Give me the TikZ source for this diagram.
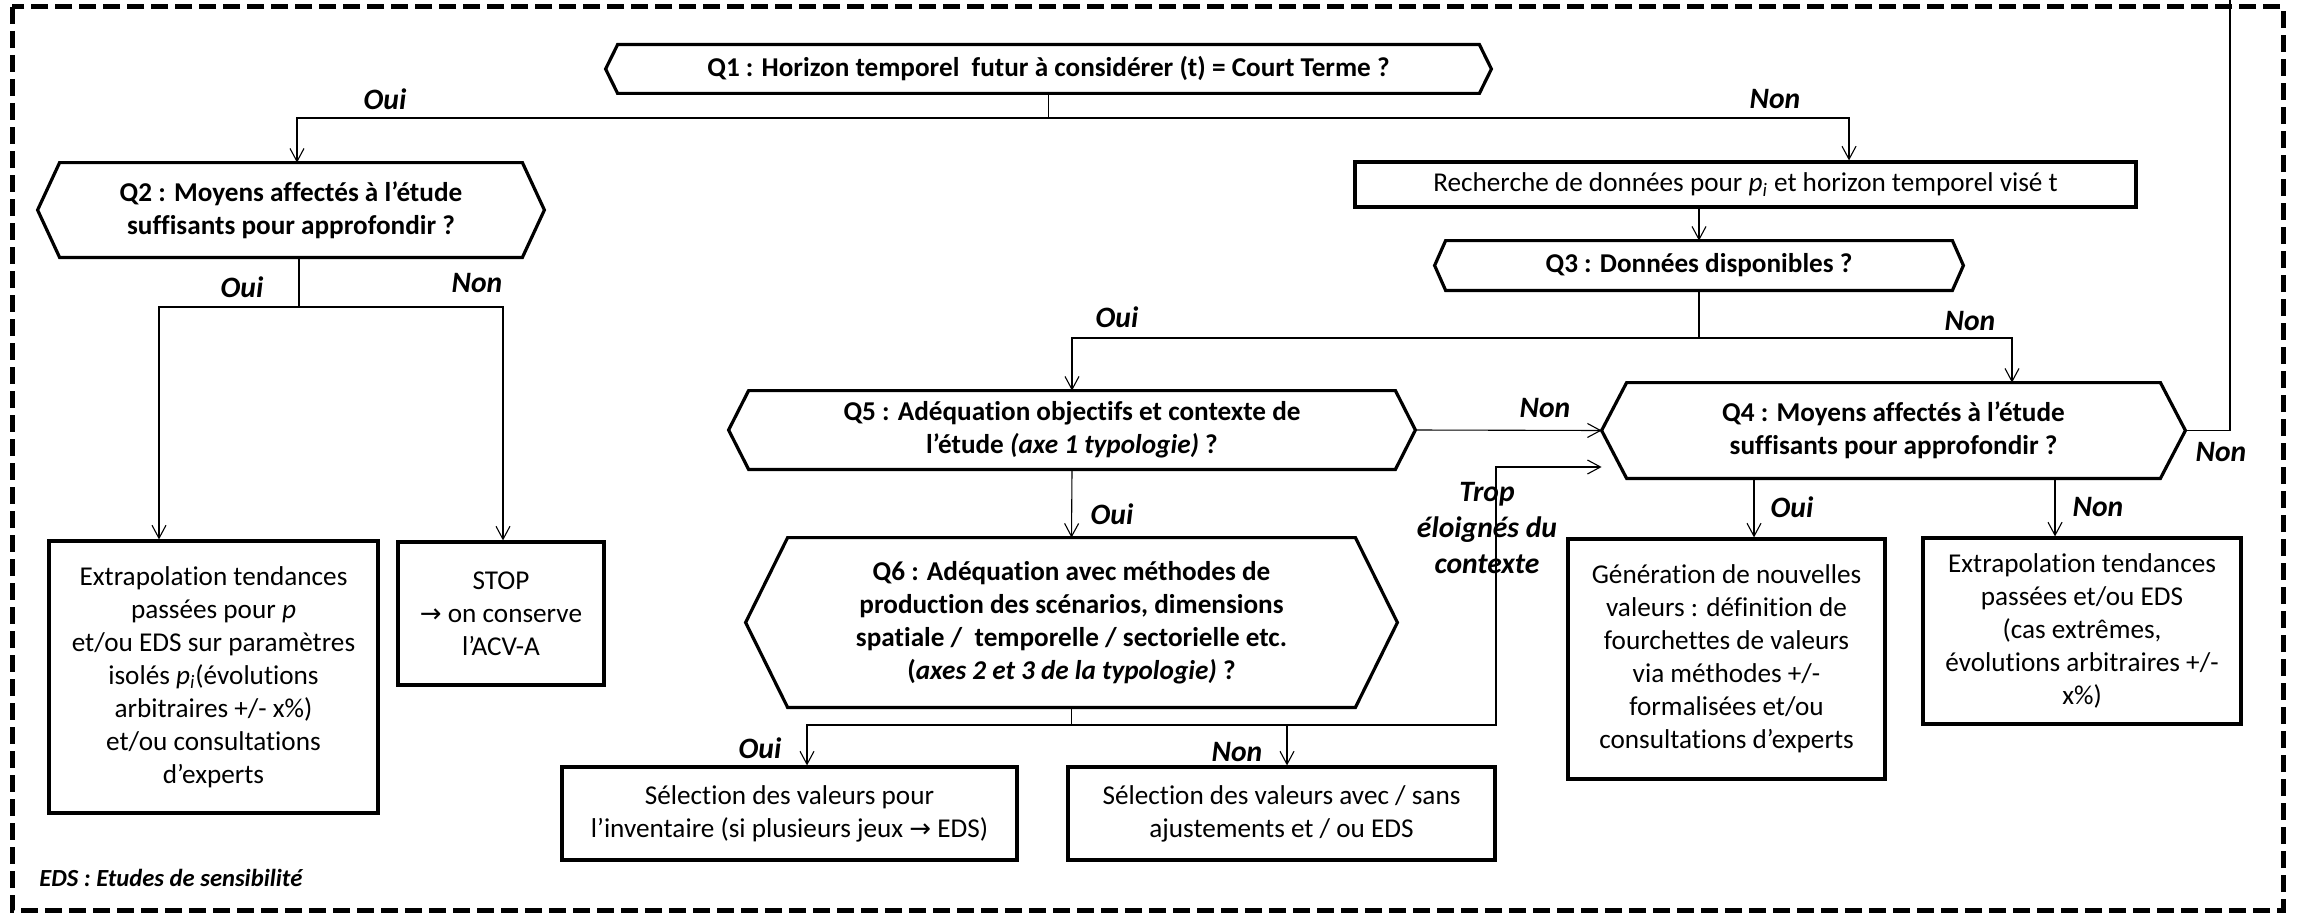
\documentclass[tikz,border=0pt]{standalone}
\usepackage{fontspec}
\setmainfont{Carlito}[Ligatures=NoCommon,RawFeature={-calt}]
\newfontfamily\symfont{DejaVu Sans}
\usetikzlibrary{arrows.meta,calc}
\newcommand\boxfont{\fontsize{13.6}{16.5}\selectfont}
\newcommand\qfont{\fontsize{13.6}{16.5}\selectfont\bfseries}
\newcommand\labfont{\fontsize{14.8}{17.8}\selectfont\bfseries\itshape}
\newcommand\rarr{{\symfont\fontsize{13}{12}\selectfont →}}
\newcommand\hexshape[2]{\draw[hexline] (#1.west) -- ([xshift=#2]#1.north west) -- ([xshift=-#2]#1.north east) -- (#1.east) -- ([xshift=-#2]#1.south east) -- ([xshift=#2]#1.south west) -- cycle;}
\tikzset{
  box/.style={draw, line width=1.6pt, align=center, inner sep=0pt, font=\boxfont},
  qbox/.style={draw=none, align=center, inner sep=0pt, font=\qfont},
  hexline/.style={line width=1.6pt, line join=miter},
  conn/.style={line width=0.55pt},
  arr/.style={conn, -{Straight Barb[length=6.5pt,width=7pt]}},
  lab/.style={font=\labfont, align=center, inner sep=0pt},
}
\begin{document}
\begin{tikzpicture}[x=0.5pt,y=-0.5pt]
\useasboundingbox (0,0) rectangle (2300,915);
% frame
\draw[line width=2.5pt, dash pattern=on 8.5pt off 3.5pt] (12,7) rectangle (2283,910);

% question nodes (hexagons)
\node[qbox, minimum width=442.5pt, minimum height=24pt] (q1) at (1048.5,69) {Q1 : Horizon temporel~ futur à considérer (t) = Court Terme ?};
\node[qbox, minimum width=253pt, minimum height=47pt] (q2) at (291,210) {Q2 : Moyens affectés à l’étude\\ suffisants pour approfondir ?};
\node[qbox, minimum width=264pt, minimum height=24.5pt] (q3) at (1699,265.5) {Q3 : Données disponibles ?};
\node[qbox, minimum width=343pt, minimum height=39pt] (q5) at (1072,430) {Q5 : Adéquation objectifs et contexte de\\ l’étude \textit{(axe 1 typologie)} ?};
\node[qbox, minimum width=291.5pt, minimum height=47.5pt] (q4) at (1893.5,430.5) {Q4 : Moyens affectés à l’étude\\ suffisants pour approfondir ?};
\node[qbox, minimum width=325.5pt, minimum height=84.5pt] (q6) at (1071.5,622.5) {Q6 : Adéquation avec méthodes de\\ production des scénarios, dimensions\\ spatiale /~ temporelle / sectorielle etc.\\ (\textit{axes 2 et 3 de la typologie)} ?};
\hexshape{q1}{6pt}
\hexshape{q2}{11pt}
\hexshape{q3}{5.5pt}
\hexshape{q5}{10pt}
\hexshape{q4}{12.5pt}
\hexshape{q6}{21pt}

% rectangular boxes
\node[box, minimum width=390.5pt, minimum height=22.5pt] (rech) at (1745.5,184.5) {Recherche de données pour \textit{p\textsubscript{i}} et horizon temporel visé t};
\node[box, minimum width=164.5pt, minimum height=136pt] (ext1) at (213.5,677) {Extrapolation tendances\\ passées pour \textit{p}\\ et/ou EDS sur paramètres\\ isolés \textit{p\textsubscript{i}}(évolutions\\ arbitraires +/- x\%)\\ et/ou consultations\\ d’experts};
\node[box, minimum width=103pt, minimum height=71.5pt] (stop) at (501,613.5) {STOP\\ \rarr{} on conserve\\ l’ACV-A};
\node[box, minimum width=227.5pt, minimum height=46.5pt] (sel1) at (789.5,813.5) {Sélection des valeurs pour\\ l’inventaire (si plusieurs jeux \rarr{} EDS)};
\node[box, minimum width=213.5pt, minimum height=46.5pt] (sel2) at (1281.5,813.5) {Sélection des valeurs avec / sans\\ ajustements et / ou EDS};
\node[box, minimum width=158.5pt, minimum height=120pt] (gen) at (1726.5,659) {Génération de nouvelles\\ valeurs : définition de\\ fourchettes de valeurs\\ via méthodes +/-\\ formalisées et/ou\\ consultations d’experts};
\node[box, minimum width=159pt, minimum height=93pt] (ext2) at (2082,631) {Extrapolation tendances\\ passées et/ou EDS\\ (cas extrêmes,\\ évolutions arbitraires +/-\\ x\%)};

% junction coordinates
\coordinate (j1) at (1048.5,118);
\coordinate (j2) at (299,307);
\coordinate (j3) at (1699,338);
\coordinate (j6) at (1071.5,725);
\coordinate (t1) at (1496,725);
\coordinate (loopc) at (2230,0);

% connectors
\draw[conn] (q1.south) -- (j1);
\draw[arr] (j1) -| ([xshift=3pt]q2.north);
\draw[arr] (j1) -| ([xshift=51.75pt]rech.north);
\draw[conn] (q2.south -| j2) -- (j2);
\draw[arr] (j2) -| ([xshift=-27.25pt]ext1.north);
\draw[arr] (j2) -| ([xshift=1pt]stop.north);
\draw[arr] (rech.south -| q3.north) -- (q3.north);
\draw[conn] (q3.south) -- (j3);
\draw[arr] (j3) -| (q5.north);
\draw[arr] (j3) -| ([xshift=59.25pt]q4.north);
\draw[arr] (q5.east) -- (q4.west);
\draw[arr] (q5.south) -- (q6.north);
\draw[conn] (q6.south) -- (j6);
\draw[arr] (j6) -| ([xshift=8.75pt]sel1.north);
\draw[arr] (j6) -| ([xshift=2.75pt]sel2.north);
\draw[arr] (j6) -- (t1) |- ([yshift=-18.25pt]q4.west);
\draw[arr] ([xshift=13.75pt]gen.north |- q4.south) -- ([xshift=13.75pt]gen.north);
\draw[arr] ([xshift=-13.5pt]ext2.north |- q4.south) -- ([xshift=-13.5pt]ext2.north);
\draw[conn] (q4.east) -| (loopc);

% labels
\node[lab] (l1) at (385,99) {Oui};
\node[lab] (l2) at (1775,99) {Non};
\node[lab] (l3) at (242,287) {Oui};
\node[lab] (l4) at (477,283) {Non};
\node[lab] (l5) at (1117,317) {Oui};
\node[lab] (l6) at (1970,321) {Non};
\node[lab] (l7) at (1545,408) {Non};
\node[lab] (l8) at (1112,514) {Oui};
\node[lab] (l9) at (1487,528) {Trop\\ éloignés du\\ contexte};
\node[lab] (l10) at (760,748) {Oui};
\node[lab] (l11) at (1237,752) {Non};
\node[lab] (l12) at (1792,507) {Oui};
\node[lab] (l13) at (2098,507) {Non};
\node[lab] (l14) at (2221,452) {Non};
\node[lab, anchor=west, font=\fontsize{12.3}{14}\selectfont\bfseries\itshape] (eds) at (39,878) {EDS : Etudes de sensibilité};
\end{tikzpicture}
\end{document}
